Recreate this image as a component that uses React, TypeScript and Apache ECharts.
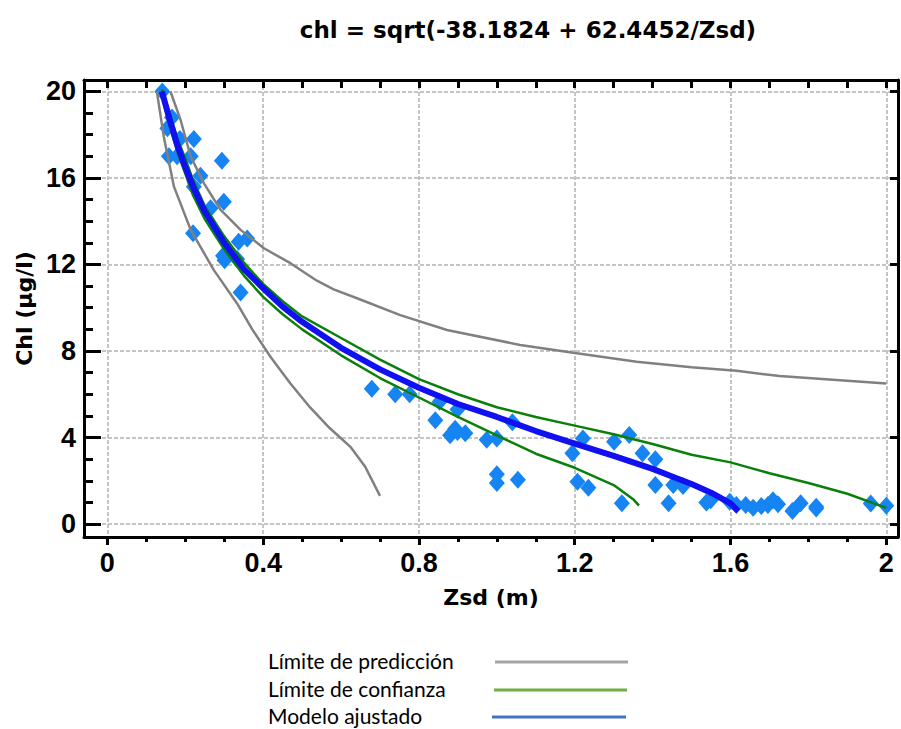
import React, { useEffect, useRef } from "react";
import * as echarts from "echarts";

const titleText = "chl = sqrt(-38.1824 + 62.4452/Zsd)";
const xName = "Zsd (m)";
const yName = "Chl (µg/l)";

const xTicks = [0, 0.4, 0.8, 1.2, 1.6, 2];
const xMinorTicks = [0.1, 0.2, 0.3, 0.5, 0.6, 0.7, 0.9, 1.0, 1.1, 1.3, 1.4, 1.5, 1.7, 1.8, 1.9];
const xTopTicks = [0, 0.1, 0.2, 0.3, 0.4, 0.5, 0.6, 0.7, 0.8, 0.9, 1.0, 1.1, 1.2, 1.3, 1.4, 1.5, 1.6, 1.7, 1.8, 1.9, 2.0];
const yTicks = [0, 4, 8, 12, 16, 20];
const yMinorTicks = [1, 2, 3, 5, 6, 7, 9, 10, 11, 13, 14, 15, 17, 18, 19];

const X_MIN = -0.06;
const X_MAX = 2.03;
const Y_MIN = -0.6;
const Y_MAX = 20.53;

const observed: [number, number][] = [
  [0.141, 20.0], [0.166, 18.8], [0.154, 18.3], [0.186, 17.8], [0.222, 17.8], [0.158, 17.0],
  [0.179, 17.0], [0.214, 17.0], [0.294, 16.8], [0.239, 16.1], [0.222, 15.6], [0.299, 14.9],
  [0.265, 14.6], [0.22, 13.45], [0.337, 13.05], [0.359, 13.2], [0.301, 12.2], [0.297, 12.4],
  [0.333, 12.25], [0.342, 10.7],
  [0.679, 6.25], [0.739, 6.0], [0.776, 6.0], [0.853, 5.65], [0.899, 5.3], [0.842, 4.8],
  [0.893, 4.4], [0.88, 4.1], [0.899, 4.25], [0.919, 4.2], [0.974, 3.9], [1.0, 3.95],
  [1.04, 4.7], [1.0, 2.3], [1.0, 1.9], [1.054, 2.05],
  [1.221, 3.96], [1.194, 3.27], [1.301, 3.8], [1.34, 4.12], [1.374, 3.27], [1.407, 3.0],
  [1.207, 1.96], [1.235, 1.68], [1.321, 0.96], [1.407, 1.8], [1.453, 1.8], [1.478, 1.76],
  [1.441, 0.96], [1.538, 0.99], [1.549, 1.1],
  [1.598, 1.03], [1.615, 0.88], [1.639, 0.88], [1.658, 0.75], [1.679, 0.83], [1.696, 0.88],
  [1.709, 1.1], [1.722, 0.92], [1.759, 0.6], [1.78, 0.96], [1.82, 0.8], [1.82, 0.72],
  [1.96, 0.95], [2.0, 0.85],
];

const fitted: [number, number][] = [
  [0.14, 20.0], [0.16, 18.7], [0.18, 17.5], [0.2, 16.5], [0.22, 15.6], [0.25, 14.45],
  [0.3, 13.0], [0.35, 11.8], [0.4, 10.9], [0.45, 10.05], [0.5, 9.35], [0.6, 8.15],
  [0.7, 7.15], [0.8, 6.3], [0.9, 5.55], [1.0, 4.95], [1.1, 4.3], [1.2, 3.72],
  [1.3, 3.15], [1.4, 2.55], [1.45, 2.2], [1.5, 1.85], [1.55, 1.45], [1.6, 0.95], [1.62, 0.6],
];

const confUpper: [number, number][] = [
  [0.14, 20.1], [0.16, 19.0], [0.18, 17.8], [0.2, 16.9], [0.22, 15.9], [0.25, 14.7],
  [0.3, 13.3], [0.35, 12.1], [0.4, 11.1], [0.45, 10.3], [0.5, 9.6], [0.6, 8.6],
  [0.7, 7.6], [0.8, 6.7], [0.9, 6.0], [1.0, 5.4], [1.1, 4.95], [1.2, 4.55],
  [1.3, 4.15], [1.4, 3.7], [1.5, 3.2], [1.6, 2.85], [1.7, 2.35], [1.8, 1.9],
  [1.9, 1.4], [2.0, 0.75],
];

const confLower: [number, number][] = [
  [0.14, 19.8], [0.16, 18.4], [0.18, 17.2], [0.2, 16.2], [0.22, 15.2], [0.25, 14.1],
  [0.3, 12.7], [0.35, 11.5], [0.4, 10.5], [0.45, 9.7], [0.5, 9.0], [0.6, 7.8],
  [0.7, 6.75], [0.8, 5.85], [0.9, 4.95], [1.0, 4.1], [1.1, 3.25], [1.2, 2.6],
  [1.3, 1.8], [1.35, 1.15], [1.365, 0.85],
];

const predUpper: [number, number][] = [
  [0.162, 20.0], [0.188, 18.68], [0.214, 16.99], [0.248, 15.75], [0.291, 14.52], [0.342, 13.6],
  [0.402, 12.75], [0.47, 12.06], [0.538, 11.25], [0.581, 10.85], [0.641, 10.44], [0.752, 9.66],
  [0.872, 8.97], [1.06, 8.28], [1.196, 7.92], [1.359, 7.5], [1.5, 7.25], [1.615, 7.09],
  [1.726, 6.84], [1.872, 6.66], [2.0, 6.5],
];

const predLower: [number, number][] = [
  [0.127, 20.0], [0.145, 17.9], [0.171, 15.6], [0.214, 13.6], [0.273, 11.75], [0.333, 10.2],
  [0.372, 9.0], [0.42, 7.7], [0.47, 6.5], [0.52, 5.4], [0.57, 4.45], [0.624, 3.57],
  [0.662, 2.65], [0.7, 1.3],
];

const legendLabels = ["Límite de predicción", "Límite de confianza", "Modelo ajustado"];
const legendColors = ["#a5a5a5", "#70ad47", "#4472c4"];

const TICK_FONT = "'Liberation Sans', Arial, sans-serif";
const NAME_FONT = "'DejaVu Sans', sans-serif";

export default function App() {
  const ref = useRef<HTMLDivElement>(null);

  useEffect(() => {
    if (!ref.current) return;
    const chart = echarts.init(ref.current, undefined, { renderer: "svg" });

    const axisLine = { show: true, onZero: false, lineStyle: { color: "#000", width: 3 } };
    const tickStyle = { color: "#000", width: 3 };
    const fmt = (v: number) => String(Number(v.toFixed(1)));

    const lineSeries = (name: string, data: [number, number][], color: string, width: number, z: number) => ({
      name,
      type: "line",
      data,
      showSymbol: false,
      symbol: "none",
      lineStyle: { color, width },
      z,
      xAxisIndex: 0,
      yAxisIndex: 0,
    });

    const legendGraphics: any[] = [];
    const rowY = [660, 688, 715];
    const lineStart = [495, 494, 492];
    const lineEnd = [628, 627, 626];
    legendLabels.forEach((label, i) => {
      legendGraphics.push({
        type: "text",
        x: 268,
        y: rowY[i],
        style: {
          text: label,
          fontFamily: "Lato, 'Open Sans', sans-serif",
          fontSize: 21,
          fill: "#000",
          verticalAlign: "middle",
        },
      });
      legendGraphics.push({
        type: "line",
        shape: { x1: lineStart[i], y1: rowY[i] + 2, x2: lineEnd[i], y2: rowY[i] + 2 },
        style: { stroke: legendColors[i], lineWidth: 3 },
      });
    });

    chart.setOption({
      animation: false,
      backgroundColor: "#fff",
      grid: { left: 84, right: 3, top: 80, bottom: 192, containLabel: false },
      graphic: [
        {
          type: "text",
          x: 528,
          y: 30,
          style: {
            text: titleText,
            fontFamily: NAME_FONT,
            fontWeight: "bold",
            fontSize: 23,
            fill: "#000",
            align: "center",
            verticalAlign: "middle",
          },
        },
        ...legendGraphics,
      ],
      xAxis: [
        {
          type: "value",
          position: "bottom",
          min: X_MIN,
          max: X_MAX,
          axisLine,
          axisTick: { show: true, inside: false, length: 8, lineStyle: tickStyle, customValues: xTicks },
          axisLabel: {
            customValues: xTicks,
            formatter: fmt,
            fontFamily: TICK_FONT,
            fontWeight: "bold",
            fontSize: 27,
            color: "#000",
            margin: 12,
          },
          splitLine: { show: true, lineStyle: { color: "#c4c4c4", width: 2, type: [4, 2] } },
          name: xName,
          nameLocation: "middle",
          nameGap: 49,
          nameTextStyle: { fontFamily: NAME_FONT, fontWeight: "bold", fontSize: 22, color: "#000" },
        },
        {
          type: "value",
          position: "bottom",
          min: X_MIN,
          max: X_MAX,
          axisLine: { show: false, onZero: false },
          axisTick: { show: true, inside: false, length: 5, lineStyle: tickStyle, customValues: xMinorTicks },
          axisLabel: { show: false },
          splitLine: { show: false },
        },
        {
          type: "value",
          position: "top",
          min: X_MIN,
          max: X_MAX,
          axisLine,
          axisTick: { show: true, inside: true, length: 8, lineStyle: tickStyle, customValues: xTopTicks },
          axisLabel: { show: false },
          splitLine: { show: false },
        },
      ],
      yAxis: [
        {
          type: "value",
          position: "left",
          min: Y_MIN,
          max: Y_MAX,
          axisLine,
          axisTick: { show: true, inside: true, length: 17, lineStyle: tickStyle, customValues: yTicks },
          axisLabel: {
            customValues: yTicks,
            formatter: fmt,
            fontFamily: TICK_FONT,
            fontWeight: "bold",
            fontSize: 27,
            color: "#000",
            margin: 8,
          },
          splitLine: { show: true, lineStyle: { color: "#c4c4c4", width: 2, type: [4, 2] } },
          name: yName,
          nameLocation: "middle",
          nameGap: 49,
          nameTextStyle: { fontFamily: NAME_FONT, fontWeight: "bold", fontSize: 22, color: "#000" },
        },
        {
          type: "value",
          position: "left",
          min: Y_MIN,
          max: Y_MAX,
          axisLine: { show: false, onZero: false },
          axisTick: { show: true, inside: true, length: 9, lineStyle: tickStyle, customValues: yMinorTicks },
          axisLabel: { show: false },
          splitLine: { show: false },
        },
        {
          type: "value",
          position: "right",
          min: Y_MIN,
          max: Y_MAX,
          axisLine,
          axisTick: { show: true, inside: true, length: 8, lineStyle: tickStyle, customValues: yTicks },
          axisLabel: { show: false },
          splitLine: { show: false },
        },
      ],
      series: [
        {
          name: "Observado",
          type: "scatter",
          data: observed,
          symbol: "diamond",
          symbolSize: [16, 18],
          itemStyle: { color: "#1684f2", opacity: 1 },
          z: 2,
          xAxisIndex: 0,
          yAxisIndex: 0,
        },
        lineSeries("Límite de predicción superior", predUpper, "#808080", 2.5, 3),
        lineSeries("Límite de predicción inferior", predLower, "#808080", 2.5, 3),
        lineSeries("Límite de confianza superior", confUpper, "#0a800a", 2.5, 4),
        lineSeries("Límite de confianza inferior", confLower, "#0a800a", 2.5, 4),
        lineSeries("Modelo ajustado", fitted, "#1010f0", 6, 5),
      ],
    });

    return () => chart.dispose();
  }, []);

  return (
    <div
      ref={ref}
      style={{ position: "fixed", left: 0, top: 0, width: 901, height: 729, background: "#fff" }}
    />
  );
}
